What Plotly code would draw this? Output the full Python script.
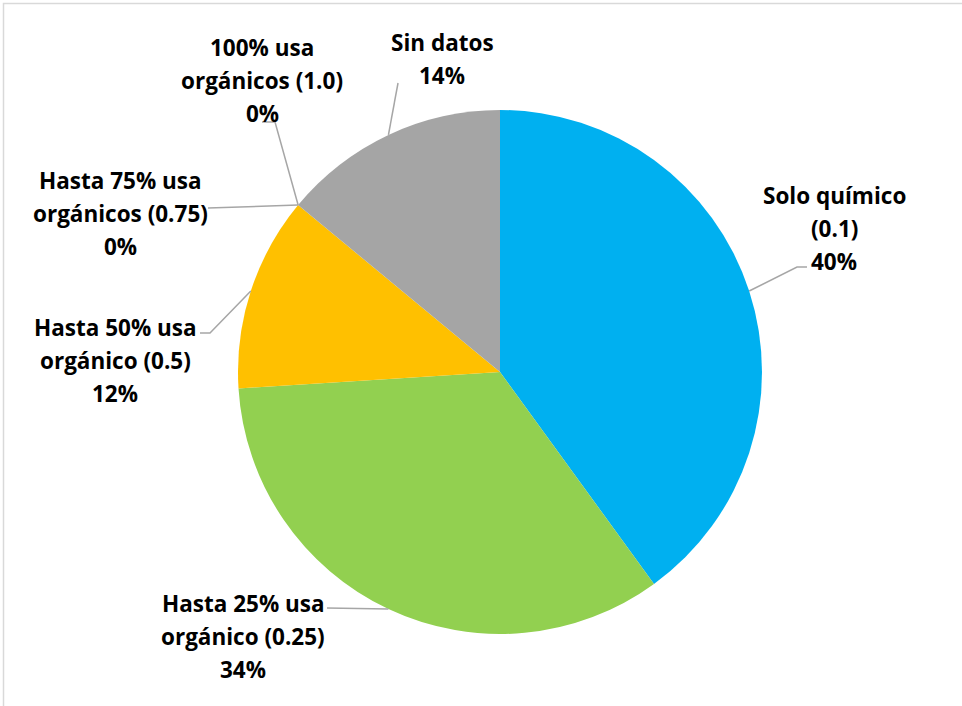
import math
import plotly.graph_objects as go

# Fertilizer use categories and their shares (%)
labels = [
    "Solo químico (0.1)",
    "Hasta 25% usa orgánico (0.25)",
    "Hasta 50% usa orgánico (0.5)",
    "Hasta 75% usa orgánicos (0.75)",
    "100% usa orgánicos (1.0)",
    "Sin datos",
]
label_lines = [
    ["Solo químico", "(0.1)"],
    ["Hasta 25% usa", "orgánico (0.25)"],
    ["Hasta 50% usa", "orgánico (0.5)"],
    ["Hasta 75% usa", "orgánicos (0.75)"],
    ["100% usa", "orgánicos (1.0)"],
    ["Sin datos"],
]
values = [40, 34, 12, 0, 0, 14]
colors = ["#00B0F0", "#92D050", "#FFC000", "#4472C4", "#ED7D31", "#A5A5A5"]

W, H = 962, 706
CX, CY, R = 500, 372, 262          # pie centre and radius (px)
LINE_GAP = 33                       # spacing between label lines (px)
FONT = dict(family="Open Sans", size=22.5, color="#000000")
LEADER = "#A6A6A6"

# label block placement: centre x, first line y, and leader points near the label
label_layout = [
    dict(x=834, y=195, leader=[(807, 267), (797, 267)]),
    dict(x=243, y=603, leader=[(327, 608)]),
    dict(x=115, y=327, leader=[(200, 333), (210, 333)]),
    dict(x=120, y=180, leader=[(208, 208)]),
    dict(x=262, y=47, leader=[(262, 122), (275, 122)]),
    dict(x=442, y=42, leader=[(398, 83)]),
]

total = sum(values)

fig = go.Figure()
fig.add_trace(go.Pie(
    labels=labels,
    values=values,
    sort=False,
    direction="clockwise",
    rotation=0,
    marker=dict(colors=colors, line=dict(width=0)),
    textinfo="none",
    hoverinfo="label+percent",
    showlegend=False,
    domain=dict(
        x=[(CX - R) / W, (CX + R) / W],
        y=[(H - CY - R) / H, (H - CY + R) / H],
    ),
))

annotations = []
shapes = []
cum = 0.0
for lines, v, spec in zip(label_lines, values, label_layout):
    mid = (cum + v / 2) / total * 2 * math.pi
    cum += v
    ax = CX + R * math.sin(mid)
    ay = CY - R * math.cos(mid)
    pct = f"{round(v / total * 100)}%"
    all_lines = lines + [pct]
    for i, t in enumerate(all_lines):
        annotations.append(dict(
            x=spec["x"], y=spec["y"] + i * LINE_GAP, xref="x", yref="y",
            text=f"<b>{t}</b>", showarrow=False, font=FONT,
            xanchor="center", yanchor="middle",
        ))
    pts = spec["leader"] + [(ax, ay)]
    path = "M " + " L ".join(f"{px},{py}" for px, py in pts)
    shapes.append(dict(type="path", path=path, xref="x", yref="y",
                       line=dict(color=LEADER, width=1.5)))

# chart frame
shapes.append(dict(type="rect", xref="x", yref="y", x0=3.5, y0=3.5, x1=W + 20, y1=H + 20,
                   line=dict(color="#D9D9D9", width=1.5), layer="below"))

fig.update_layout(
    width=W, height=H,
    margin=dict(l=0, r=0, t=0, b=0),
    paper_bgcolor="white", plot_bgcolor="white",
    xaxis=dict(range=[0, W], visible=False, fixedrange=True),
    yaxis=dict(range=[H, 0], visible=False, fixedrange=True),
    annotations=annotations,
    shapes=shapes,
)

fig.write_html("out.html")
